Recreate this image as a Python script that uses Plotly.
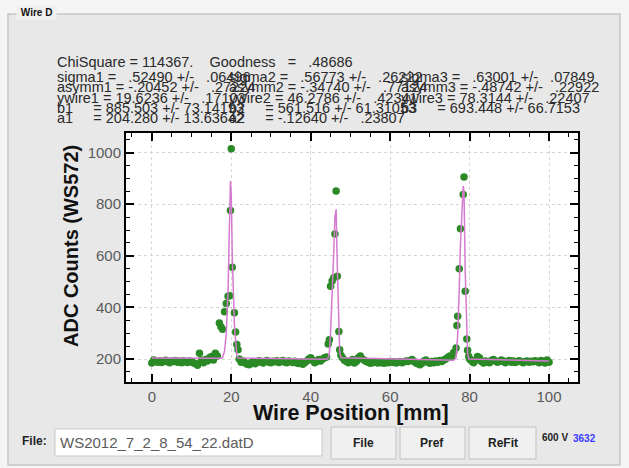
import plotly.graph_objects as go

# ---------------- data ----------------
wire_pos = [
    0.0, 0.5, 1.0, 1.5, 2.0, 2.5, 3.0, 3.5, 4.0, 4.5, 5.0, 5.5, 6.0, 6.5, 7.0, 7.5, 8.0, 8.5,
    9.0, 9.5, 10.0, 10.5, 11.0, 11.5, 12.0, 12.5, 13.0, 13.5, 14.0, 14.5, 15.0, 15.5, 16.0, 16.5,
    17.0, 17.4, 17.8, 18.3, 18.75, 19.2, 19.6, 19.8, 20.0, 20.25, 20.8, 21.1, 21.4, 21.7,
    22.0, 22.5, 23.0, 23.5, 24.0, 24.5, 25.0, 25.5, 26.0, 26.5, 27.0, 27.5, 28.0, 28.5, 29.0,
    29.5, 30.0, 30.5, 31.0, 31.5, 32.0, 32.5, 33.0, 33.5, 34.0, 34.5, 35.0, 35.5, 36.0, 36.5,
    37.0, 37.5, 38.0, 38.5, 39.0, 39.5, 40.0, 40.5, 41.0, 41.5, 42.0, 42.5, 43.0, 43.5, 44.0,
    44.4, 44.7, 45.0, 45.4, 45.8, 46.1, 46.4, 46.7, 47.1, 47.3, 47.6,
    48.0, 48.5, 49.0, 49.5, 50.0, 50.5, 51.0, 51.5, 52.0, 52.5, 53.0, 53.5, 54.0, 54.5, 55.0,
    55.5, 56.0, 56.5, 57.0, 57.5, 58.0, 58.5, 59.0, 59.5, 60.0, 60.5, 61.0, 61.5, 62.0, 62.5,
    63.0, 63.5, 64.0, 64.5, 65.0, 65.5, 66.0, 66.5, 67.0, 67.5, 68.0, 68.5, 69.0, 69.5, 70.0,
    70.5, 71.0, 71.5, 72.0, 72.5, 73.0, 73.5, 74.0, 74.5, 75.0, 75.5, 76.0,
    76.6, 76.8, 77.0, 77.4, 77.7, 78.4, 78.6, 78.9, 79.3, 79.5, 79.8,
    80.0, 80.5, 81.0, 81.5, 82.0, 82.5, 83.0, 83.5, 84.0, 84.5, 85.0, 85.5, 86.0, 86.5, 87.0,
    87.5, 88.0, 88.5, 89.0, 89.5, 90.0, 90.5, 91.0, 91.5, 92.0, 92.5, 93.0, 93.5, 94.0, 94.5,
    95.0, 95.5, 96.0, 96.5, 97.0, 97.5, 98.0, 98.5, 99.0, 99.5, 100.0,
]
adc_counts = [
    185, 196, 190, 188, 193, 187, 191, 195, 189, 186, 192, 190, 194, 188, 191, 186, 193, 189,
    187, 192, 190, 185, 183, 176, 222, 195, 186, 198, 192, 205, 210, 196, 222, 212,
    340, 325, 315, 383, 415, 443, 445, 776, 1015, 556, 379, 305, 256, 236,
    200, 188, 192, 185, 180, 178, 186, 190, 182, 187, 193, 189, 185, 190, 194,
    188, 186, 191, 189, 193, 187, 190, 194, 188, 186, 192, 190, 187, 191, 185,
    183, 188, 180, 186, 192, 200, 205, 195, 186, 190, 198, 192, 200, 205, 208,
    258, 275, 482, 502, 515, 685, 851, 521, 307, 236, 215,
    205, 195, 190, 186, 192, 198, 185, 190, 205, 212, 200, 195, 190, 188, 184,
    186, 190, 187, 185, 189, 186, 184, 188, 186, 190, 187, 189, 185, 188, 190,
    186, 189, 192, 190, 194, 198, 190, 185, 182, 178, 184, 192, 196, 188, 184,
    190, 186, 192, 188, 194, 190, 196, 200, 206, 212, 208, 225,
    243, 330, 366, 550, 705, 838, 905, 463, 278, 234, 210,
    200, 192, 186, 195, 210, 205, 190, 185, 192, 188, 186, 194, 198, 192, 188,
    190, 196, 192, 186, 190, 194, 188, 192, 187, 190, 193, 189, 186, 190, 192,
    188, 191, 189, 193, 190, 186, 194, 190, 185, 196, 188,
]

fit_pos = [0.0, 17.0, 17.4, 17.8, 18.3, 18.75, 19.2, 19.6, 19.8, 20.0, 20.25, 20.8, 21.1, 21.4, 21.7,
           44.0, 44.4, 44.7, 45.0, 45.4, 45.8, 46.1, 46.4, 46.7, 47.1, 47.3, 47.6,
           76.0, 76.6, 76.8, 77.0, 77.4, 77.7, 78.4, 78.6, 78.9, 79.3, 79.5, 79.8, 100.0]
fit_counts = [204, 202, 203, 206, 230, 300, 470, 760, 890, 840, 600, 330, 250, 215, 204,
              199, 204, 225, 300, 430, 610, 750, 780, 560, 300, 230, 205,
              195, 205, 235, 290, 470, 640, 870, 850, 540, 270, 225, 200, 192]

x_ticks = [0, 20, 40, 60, 80, 100]
x_tick_labels = ["0", "20", "40", "60", "80", "100"]
y_ticks = [200, 400, 600, 800, 1000]
y_tick_labels = ["200", "400", "600", "800", "1000"]

header_line = "ChiSquare = 114367.    Goodness   =   .48686"
fit_rows = [
    ["sigma1 =   .52490 +/-   .06496", "sigma2 =   .56773 +/-   .26222", "sigma3 =   .63001 +/-   .07849"],
    ["asymm1 = -.20452 +/-   .27224", "asymm2 = -.34740 +/-   .77124", "asymm3 = -.48742 +/-   .22922"],
    ["ywire1 = 19.6236 +/-   .17103", "ywire2 = 46.2786 +/-   .42341", "ywire3 = 78.3144 +/-   .22407"],
    ["b1     = 885.503 +/- 73.14193", "b2     = 561.516 +/- 61.31053", "b3     = 693.448 +/- 66.7153"],
    ["a1     = 204.280 +/- 13.63642", "a2     = -.12640 +/-   .23807"],
]

# ---------------- figure ----------------
W, H = 629, 468
FONT = "Liberation Sans, Arial, Helvetica, sans-serif"


def px(x):
    return x / W


def py(y):
    return 1 - y / H


fig = go.Figure()
fig.add_trace(go.Scatter(x=wire_pos, y=adc_counts, mode="markers",
                         marker=dict(color="#2a8a26", size=7.5, line=dict(width=0)),
                         showlegend=False, hoverinfo="skip"))
fig.add_trace(go.Scatter(x=fit_pos, y=fit_counts, mode="lines",
                         line=dict(color="#d67ad0", width=1.5),
                         showlegend=False, hoverinfo="skip"))

axis_common = dict(
    ticks="inside", ticklen=8, tickwidth=1.5, tickcolor="black",
    showline=True, linecolor="black", linewidth=2, mirror="allticks",
    showgrid=True, gridcolor="#d6d6d6", griddash="dot", gridwidth=1,
    zeroline=False, tickfont=dict(family=FONT, size=15, color="#5a5a5a"),
)

fig.update_layout(
    width=W, height=H, autosize=False,
    margin=dict(l=0, r=0, t=0, b=0),
    paper_bgcolor="#e8e8e8", plot_bgcolor="white",
    showlegend=False,
    xaxis=dict(domain=[px(126), px(578)], range=[-6.5, 107.3],
               tickmode="array", tickvals=x_ticks, ticktext=x_tick_labels,
               minor=dict(tick0=0, dtick=5, ticks="inside", ticklen=4, tickwidth=1,
                          tickcolor="black", showgrid=False),
               **axis_common),
    yaxis=dict(domain=[py(382), py(133)], range=[111, 1076],
               tickmode="array", tickvals=y_ticks, ticktext=y_tick_labels,
               minor=dict(tick0=0, dtick=50, ticks="inside", ticklen=4, tickwidth=1,
                          tickcolor="black", showgrid=False),
               **axis_common),
)

shapes = []
# outside of the group panel (lighter window background)
for (x0, y0, x1, y1) in [(0, 0, 629, 14), (0, 0, 8, 468), (620, 0, 629, 468), (0, 465, 629, 468)]:
    shapes.append(dict(type="rect", xref="paper", yref="paper",
                       x0=px(x0), x1=px(x1), y0=py(y1), y1=py(y0),
                       fillcolor="#f5f5f5", line=dict(width=0), layer="below"))
# panel border
shapes.append(dict(type="rect", xref="paper", yref="paper",
                   x0=px(8), x1=px(620), y0=py(465), y1=py(14),
                   fillcolor="rgba(0,0,0,0)", line=dict(color="#c6c6c6", width=1.5)))
# file name box
shapes.append(dict(type="rect", xref="paper", yref="paper",
                   x0=px(55), x1=px(322), y0=py(456), y1=py(429),
                   fillcolor="white", line=dict(color="#c9c9c9", width=1)))
# buttons
buttons = [("File", 331, 396), ("Pref", 400, 465), ("ReFit", 469, 536)]
for label, x0, x1 in buttons:
    shapes.append(dict(type="rect", xref="paper", yref="paper",
                       x0=px(x0), x1=px(x1), y0=py(459), y1=py(427),
                       fillcolor="#f0f0f0", line=dict(color="#c2c2c2", width=1)))
fig.update_layout(shapes=shapes)


def ann(text, x, y, size=13, color="#2a2a2a", xanchor="left", bold=False, **kw):
    t = text.replace(" ", "\u00a0")
    if bold:
        t = "<b>" + t + "</b>"
    fig.add_annotation(text=t, x=px(x), y=py(y), xref="paper", yref="paper",
                       xanchor=xanchor, yanchor="middle", showarrow=False,
                       font=dict(family=FONT, size=size, color=color), **kw)


# group title
ann(" Wire D ", 16, 12, size=10, color="#111", bold=True, bgcolor="#f0f0f0")

# fit parameter text block (rows overlap, as in the original panel)
row_y = [77, 87, 98, 108, 118]
col_x = [55, 227, 399]
ann(header_line, 55, 62, size=14.5)
for r, row in enumerate(fit_rows):
    for c, txt in enumerate(row):
        ann(txt, col_x[c], row_y[r], size=14.5)

# axis titles
fig.add_annotation(text="<b>ADC Counts (WS572)</b>", x=px(71), y=py(246), xref="paper", yref="paper",
                   textangle=-90, showarrow=False, xanchor="center", yanchor="middle",
                   font=dict(family=FONT, size=20, color="#111"))
fig.add_annotation(text="<b>Wire Position [mm]</b>", x=px(351), y=py(413), xref="paper", yref="paper",
                   showarrow=False, xanchor="center", yanchor="middle",
                   font=dict(family=FONT, size=21.5, color="#111"))

# bottom controls
ann("File:", 20, 441, size=12, color="#222", bold=True)
ann("WS2012_7_2_8_54_22.datD", 58, 442, size=15, color="#5c5c5c")
for label, x0, x1 in buttons:
    ann(label, (x0 + x1) / 2, 443, size=12, color="#222", xanchor="center", bold=True)
ann("600 V", 540, 437, size=10, color="#222", bold=True)
ann("3632", 571, 438, size=10, color="#3a3aff", bold=True)

fig.write_html("out.html")
